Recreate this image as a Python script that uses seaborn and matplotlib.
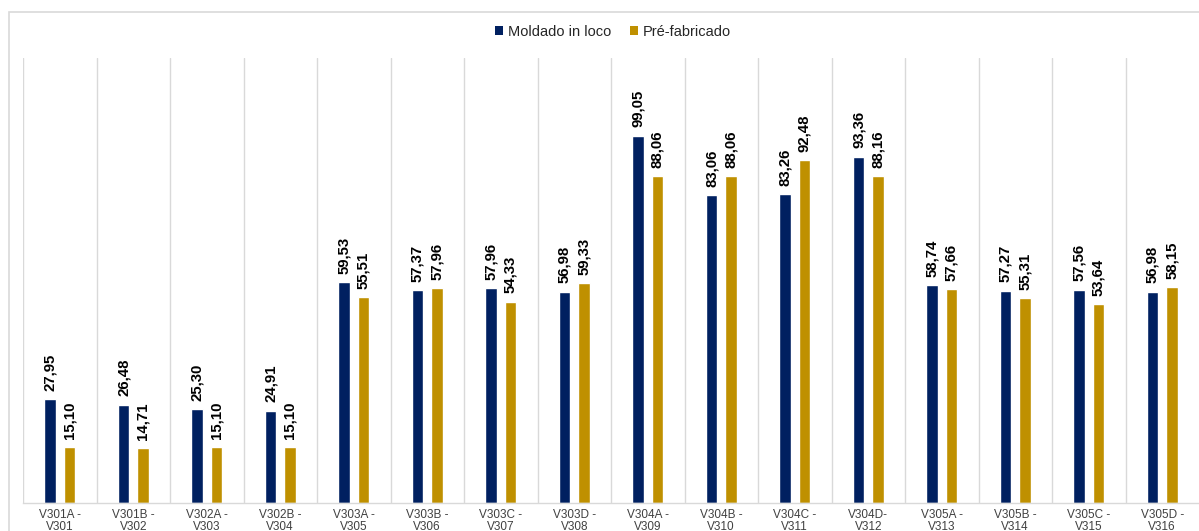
import matplotlib
matplotlib.use("Agg")
import matplotlib.pyplot as plt
from matplotlib.patches import Rectangle, Patch
import seaborn as sns
import pandas as pd

categories = [
    "V301A -\nV301", "V301B -\nV302", "V302A -\nV303", "V302B -\nV304",
    "V303A -\nV305", "V303B -\nV306", "V303C -\nV307", "V303D -\nV308",
    "V304A -\nV309", "V304B -\nV310", "V304C -\nV311", "V304D-\nV312",
    "V305A -\nV313", "V305B -\nV314", "V305C -\nV315", "V305D -\nV316",
]
moldado = [27.95, 26.48, 25.30, 24.91, 59.53, 57.37, 57.96, 56.98,
           99.05, 83.06, 83.26, 93.36, 58.74, 57.27, 57.56, 56.98]
prefab = [15.10, 14.71, 15.10, 15.10, 55.51, 57.96, 54.33, 59.33,
          88.06, 88.06, 92.48, 88.16, 57.66, 55.31, 53.64, 58.15]
series = ["Moldado in loco", "Pré-fabricado"]
colors = ["#002060", "#BF9000"]

df = pd.DataFrame({
    "viga": categories * 2,
    "valor": moldado + prefab,
    "tipo": [series[0]] * len(categories) + [series[1]] * len(categories),
})

sns.set_style("white")
plt.rcParams["font.family"] = ["Liberation Sans", "DejaVu Sans"]

fig = plt.figure(figsize=(11.99, 5.31), dpi=100)
ax = fig.add_axes([23 / 1199, 1 - 503 / 531, 1 - 23 / 1199, (503 - 58) / 531])

sns.barplot(data=df, x="viga", y="valor", hue="tipo", palette=colors,
            width=0.53, gap=0.42, ax=ax, legend=False, errorbar=None,
            saturation=1)

# value labels above each bar, comma decimal separator
for container in ax.containers:
    labels = [f"{b.get_height():.2f}".replace(".", ",") for b in container]
    ax.bar_label(container, labels=labels, rotation=90, padding=6,
                 fontsize=10.8, fontweight="bold", color="black")

n = len(categories)
ax.set_xlim(-0.5, n - 0.5)
ax.set_ylim(0, 120)
ax.set_xlabel("")
ax.set_ylabel("")
ax.set_yticks([])

# vertical separators between categories
for i in range(n):
    ax.axvline(i - 0.5, color="#d9d9d9", lw=1, zorder=0)

for s in ["top", "right", "left"]:
    ax.spines[s].set_visible(False)
ax.spines["bottom"].set_color("#d9d9d9")
ax.spines["bottom"].set_linewidth(1)

ax.tick_params(axis="x", length=0, pad=4, labelsize=8.5, colors="#404040")
for t in ax.get_xticklabels():
    t.set_linespacing(1.0)

handles = [Patch(facecolor=c, edgecolor="none", label=l) for c, l in zip(colors, series)]
fig.legend(handles=handles, loc="center", bbox_to_anchor=(613 / 1199, 1 - 32 / 531),
           ncol=2, frameon=False, fontsize=10.5, handlelength=0.55, handleheight=0.55,
           handletextpad=0.35, columnspacing=1.3)

# chart area frame
fig.patches.append(Rectangle((9 / 1199, -0.1), 1.2, 1 - 12 / 531 + 0.1,
                             transform=fig.transFigure, fill=False,
                             edgecolor="#d9d9d9", lw=1.2, zorder=0))

fig.savefig("out.png", dpi=100)
